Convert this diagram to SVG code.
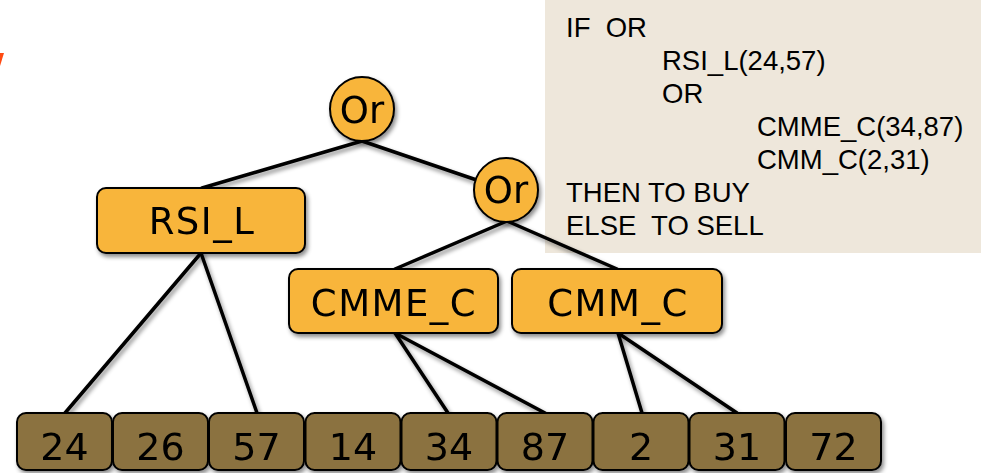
<svg xmlns="http://www.w3.org/2000/svg" width="981" height="473" viewBox="0 0 981 473">
  <defs>
    <filter id="shadow" x="-20%" y="-20%" width="140%" height="160%">
      <feDropShadow dx="2" dy="3" stdDeviation="2" flood-color="#000" flood-opacity="0.45"/>
    </filter>
    <style>
      .op { fill: #F8B53A; stroke: #000; stroke-width: 2; }
      .leaf { fill: #8B723F; stroke: #000; stroke-width: 2; }
      .lbl { font-family: "DejaVu Sans", Verdana, sans-serif; font-size: 37px; letter-spacing: 1.5px; fill: #000; text-anchor: middle; }
      .or { font-family: "DejaVu Sans", Verdana, sans-serif; font-size: 37px; fill: #000; text-anchor: middle; }
      .num { font-family: "DejaVu Sans", Verdana, sans-serif; font-size: 38px; fill: #000; text-anchor: middle; }
      .rule { font-family: "Liberation Sans", Arial, sans-serif; font-size: 27.5px; fill: #000; white-space: pre; }
      .edge { stroke: #000; stroke-width: 3.5; fill: none; stroke-linecap: round; }
    </style>
  </defs>

  <rect width="981" height="473" fill="#fff"/>

  <!-- small orange mark at the left edge -->
  <polygon points="0,53 4,53 0,66" fill="#FF4A12"/>

  <!-- rule text panel -->
  <g id="rule-panel">
    <rect x="545" y="0" width="436" height="253" fill="#EEE7DB"/>
    <text class="rule" x="566" y="37">IF  OR</text>
    <text class="rule" x="662" y="70">RSI_L(24,57)</text>
    <text class="rule" x="662" y="103">OR</text>
    <text class="rule" x="757" y="136">CMME_C(34,87)</text>
    <text class="rule" x="757" y="169">CMM_C(2,31)</text>
    <text class="rule" x="566" y="202">THEN TO BUY</text>
    <text class="rule" x="566" y="235">ELSE  TO SELL</text>
  </g>

  <!-- connectors -->
  <g id="connectors" filter="url(#shadow)">
    <line class="edge" x1="362" y1="141" x2="202" y2="188"/>
    <line class="edge" x1="362" y1="141" x2="506" y2="190"/>
    <line class="edge" x1="507" y1="221" x2="395" y2="269"/>
    <line class="edge" x1="507" y1="221" x2="617" y2="269"/>
    <line class="edge" x1="201" y1="253" x2="65" y2="413"/>
    <line class="edge" x1="201" y1="253" x2="257" y2="413"/>
    <line class="edge" x1="395" y1="333" x2="448" y2="413"/>
    <line class="edge" x1="395" y1="333" x2="545" y2="413"/>
    <line class="edge" x1="618" y1="333" x2="642" y2="413"/>
    <line class="edge" x1="618" y1="333" x2="737" y2="413"/>
  </g>

  <!-- operator nodes -->
  <g id="or-root" filter="url(#shadow)">
    <circle class="op" cx="362" cy="109" r="32"/>
    <text class="or" x="362" y="123">Or</text>
  </g>
  <g id="or-inner" filter="url(#shadow)">
    <circle class="op" cx="506" cy="190" r="32"/>
    <text class="or" x="506" y="203">Or</text>
  </g>

  <!-- indicator nodes -->
  <g id="rsi-l" filter="url(#shadow)">
    <rect class="op" x="97" y="188" width="208" height="65" rx="9"/>
    <text class="lbl" x="202" y="234">RSI_L</text>
  </g>
  <g id="cmme-c" filter="url(#shadow)">
    <rect class="op" x="289" y="269" width="209" height="64" rx="9"/>
    <text class="lbl" x="394" y="316">CMME_C</text>
  </g>
  <g id="cmm-c" filter="url(#shadow)">
    <rect class="op" x="512" y="269" width="210" height="64" rx="9"/>
    <text class="lbl" x="618" y="316">CMM_C</text>
  </g>

  <!-- parameter leaves -->
  <g id="leaf-24" filter="url(#shadow)">
    <rect class="leaf" x="17" y="413" width="95" height="57" rx="9"/>
    <text class="num" x="64.5" y="460">24</text>
  </g>
  <g id="leaf-26" filter="url(#shadow)">
    <rect class="leaf" x="113" y="413" width="95" height="57" rx="9"/>
    <text class="num" x="160.5" y="460">26</text>
  </g>
  <g id="leaf-57" filter="url(#shadow)">
    <rect class="leaf" x="209" y="413" width="95" height="57" rx="9"/>
    <text class="num" x="256.5" y="460">57</text>
  </g>
  <g id="leaf-14" filter="url(#shadow)">
    <rect class="leaf" x="305.5" y="413" width="95" height="57" rx="9"/>
    <text class="num" x="353" y="460">14</text>
  </g>
  <g id="leaf-34" filter="url(#shadow)">
    <rect class="leaf" x="401.5" y="413" width="95" height="57" rx="9"/>
    <text class="num" x="449" y="460">34</text>
  </g>
  <g id="leaf-87" filter="url(#shadow)">
    <rect class="leaf" x="497.5" y="413" width="95" height="57" rx="9"/>
    <text class="num" x="545" y="460">87</text>
  </g>
  <g id="leaf-2" filter="url(#shadow)">
    <rect class="leaf" x="593.5" y="413" width="95" height="57" rx="9"/>
    <text class="num" x="641" y="460">2</text>
  </g>
  <g id="leaf-31" filter="url(#shadow)">
    <rect class="leaf" x="689.5" y="413" width="95" height="57" rx="9"/>
    <text class="num" x="737" y="460">31</text>
  </g>
  <g id="leaf-72" filter="url(#shadow)">
    <rect class="leaf" x="786" y="413" width="95" height="57" rx="9"/>
    <text class="num" x="833.5" y="460">72</text>
  </g>
</svg>
